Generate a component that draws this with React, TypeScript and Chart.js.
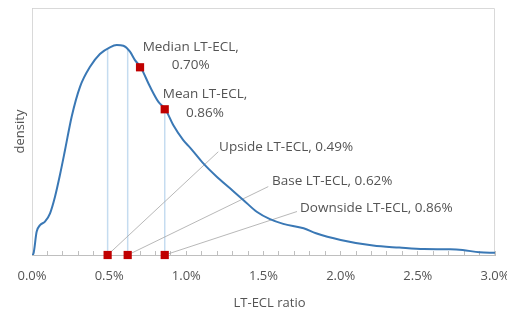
import React, { useEffect, useRef } from 'react';
import { Chart, registerables } from 'chart.js';

Chart.register(...registerables);

// density curve (x in %, density in arbitrary units, axis 0..100)
const curveX = [0.0, 0.009, 0.03, 0.052, 0.084, 0.117, 0.149, 0.181, 0.214, 0.257, 0.311, 0.376, 0.44, 0.505, 0.549, 0.592, 0.635, 0.667, 0.704, 0.765, 0.818, 0.864, 0.916, 0.98, 1.024, 1.11, 1.197, 1.283, 1.369, 1.456, 1.542, 1.628, 1.76, 1.84, 2.0, 2.21, 2.38, 2.54, 2.71, 2.79, 2.9, 3.0];
const curveY = [0, 0.5, 9.4, 12.1, 13.5, 16.9, 23.6, 32.4, 42.5, 56.0, 68.1, 76.2, 81.4, 84.1, 85.0, 84.7, 82.3, 78.9, 76.0, 68.1, 62.1, 59.0, 52.5, 46.5, 43.5, 37.1, 31.7, 27.0, 22.3, 17.5, 14.5, 12.6, 10.8, 8.8, 6.1, 3.8, 3.0, 2.4, 2.3, 2.0, 1.1, 0.9];

// scenarios
const scenarioNames = ['Upside', 'Base', 'Downside'];
const scenarioValues = [0.49, 0.62, 0.86];
const scenarioLineTop = [83.5, 83.3, 59.0];

// statistics on the curve
const statNames = ['Median', 'Mean'];
const statValues = [0.70, 0.86];
const statDensity = [76.0, 59.0];

// axis
const xMajorTicks = [0, 0.5, 1.0, 1.5, 2.0, 2.5, 3.0];
const xMajorLabels = ['0.0%', '0.5%', '1.0%', '1.5%', '2.0%', '2.5%', '3.0%'];
const xAxisTitle = 'LT-ECL ratio';
const yAxisTitle = 'density';

// label anchors (data units)
const statLabelAnchor = [
  { x: 1.028, y1: 82.7, y2: 75.3 },
  { x: 1.121, y1: 63.4, y2: 56.0 },
];
const scenarioLabelAnchor = [
  { x: 1.212, y: 42.1 },
  { x: 1.555, y: 28.3 },
  { x: 1.737, y: 17.4 },
];
const scenarioLeaderEnd = [
  { x: 1.207, y: 41.8 },
  { x: 1.531, y: 27.7 },
  { x: 1.717, y: 17.6 },
];

const TEXT = '#545454';
const FONT = "'Open Sans', sans-serif";
const fmt = (v: number) => `${v.toFixed(2)}%`;

export default function App() {
  const ref = useRef<HTMLCanvasElement | null>(null);

  useEffect(() => {
    if (!ref.current) return;

    const boxPlugin = {
      id: 'box',
      beforeDatasetsDraw(chart: any) {
        const { ctx, chartArea: a } = chart;
        ctx.save();
        ctx.strokeStyle = '#d9d9d9';
        ctx.lineWidth = 1;
        ctx.beginPath();
        ctx.moveTo(a.left + 0.5, a.bottom);
        ctx.lineTo(a.left + 0.5, a.top + 0.5);
        ctx.lineTo(a.right - 0.5, a.top + 0.5);
        ctx.lineTo(a.right - 0.5, a.bottom);
        ctx.stroke();
        ctx.restore();
      },
    };

    const labelPlugin = {
      id: 'labels',
      afterDatasetsDraw(chart: any) {
        const { ctx, scales, chartArea: a } = chart;
        const xs = scales.x;
        const ys = scales.y;
        ctx.save();
        ctx.fillStyle = TEXT;
        ctx.font = `13.5px ${FONT}`;
        ctx.textBaseline = 'alphabetic';
        ctx.textAlign = 'center';
        statNames.forEach((n, i) => {
          const an = statLabelAnchor[i];
          const px = xs.getPixelForValue(an.x);
          ctx.fillText(`${n} LT-ECL,`, px, ys.getPixelForValue(an.y1));
          ctx.fillText(fmt(statValues[i]), px, ys.getPixelForValue(an.y2));
        });
        ctx.textAlign = 'left';
        scenarioNames.forEach((n, i) => {
          const an = scenarioLabelAnchor[i];
          ctx.fillText(`${n} LT-ECL, ${fmt(scenarioValues[i])}`, xs.getPixelForValue(an.x), ys.getPixelForValue(an.y));
        });
        // axis titles
        ctx.font = `13px ${FONT}`;
        ctx.textAlign = 'center';
        ctx.fillText(xAxisTitle, (a.left + a.right) / 2 + 6, 307);
        ctx.translate(23.5, (a.top + a.bottom) / 2);
        ctx.rotate(-Math.PI / 2);
        ctx.fillText(yAxisTitle, 0, 0);
        ctx.restore();
      },
    };

    const curve = curveX.map((x, i) => ({ x, y: curveY[i] }));

    const datasets: any[] = [];
    // scenario markers (first = drawn on top)
    datasets.push({
      data: scenarioValues.map((v) => ({ x: v, y: 0 })),
      pointStyle: 'rect',
      pointRadius: 5.8,
      backgroundColor: '#c00000',
      borderColor: '#c00000',
      borderWidth: 0,
      showLine: false,
      clip: false,
    });
    // stat markers
    datasets.push({
      data: statValues.map((v, i) => ({ x: v, y: statDensity[i] })),
      pointStyle: 'rect',
      pointRadius: 5.8,
      backgroundColor: '#c00000',
      borderColor: '#c00000',
      borderWidth: 0,
      showLine: false,
      clip: false,
    });
    // curve
    datasets.push({
      data: curve,
      showLine: true,
      borderColor: '#3a78b5',
      borderWidth: 2,
      pointRadius: 0,
      cubicInterpolationMode: 'monotone',
    });
    // leader lines
    scenarioValues.forEach((v, i) => {
      datasets.push({
        data: [{ x: v, y: 0 }, { x: scenarioLeaderEnd[i].x, y: scenarioLeaderEnd[i].y }],
        showLine: true,
        borderColor: '#a6a6a6',
        borderWidth: 0.8,
        pointRadius: 0,
      });
    });
    // vertical guide lines
    scenarioValues.forEach((v, i) => {
      datasets.push({
        data: [{ x: v, y: 0 }, { x: v, y: scenarioLineTop[i] }],
        showLine: true,
        borderColor: '#c5dcf0',
        borderWidth: 1.5,
        pointRadius: 0,
      });
    });

    const chart = new Chart(ref.current, {
      type: 'scatter',
      data: { datasets },
      options: {
        animation: false,
        responsive: false,
        layout: { padding: { top: 8, left: 0, right: 0, bottom: 0 } },
        plugins: { legend: { display: false }, tooltip: { enabled: false } },
        scales: {
          x: {
            type: 'linear',
            min: 0,
            max: 3,
            afterBuildTicks: (s: any) => {
              const t = [];
              for (let i = 0; i <= 30; i++) t.push({ value: i / 10 });
              s.ticks = t;
            },
            ticks: {
              autoSkip: false,
              maxRotation: 0,
              padding: 17,
              color: TEXT,
              font: { family: FONT, size: 13 },
              callback: (v: any) => {
                const idx = xMajorTicks.findIndex((m) => Math.abs(m - Number(v)) < 1e-6);
                return idx >= 0 ? xMajorLabels[idx] : '';
              },
            },
            grid: { drawOnChartArea: false, drawTicks: true, tickLength: -4, color: '#bfbfbf' },
            border: { color: '#bfbfbf' },
            afterFit: (s: any) => {
              s.height = 56;
              s.paddingRight = 12;
              s.paddingLeft = 0;
            },
          },
          y: {
            min: 0,
            max: 100,
            ticks: { display: false },
            grid: { display: false },
            border: { display: true, color: '#bfbfbf' },
            afterFit: (s: any) => {
              s.width = 32;
            },
          },
        },
      },
      plugins: [boxPlugin, labelPlugin],
    } as any);

    return () => chart.destroy();
  }, []);

  return (
    <canvas ref={ref} width={507} height={311} style={{ position: 'absolute', left: 0, top: 0 }} />
  );
}
